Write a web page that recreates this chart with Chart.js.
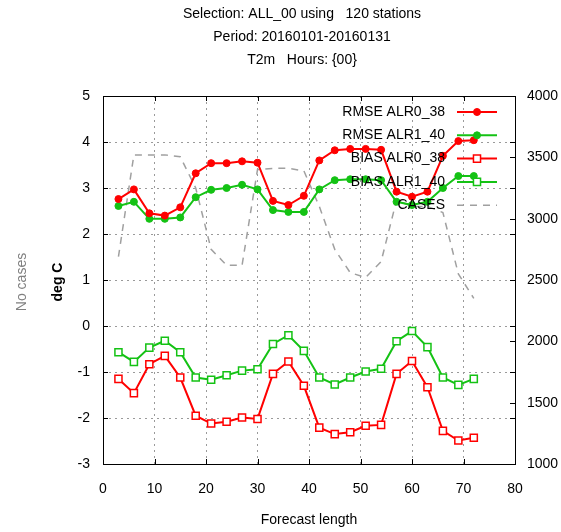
<!DOCTYPE html>
<html>
<head>
<meta charset="utf-8">
<script src="https://cdn.jsdelivr.net/npm/chart.js@4/dist/chart.umd.min.js"></script>
<style>
  body { margin: 0; background: #fff; }
  canvas { display: block; }
</style>
</head>
<body>
<canvas id="chart" width="561" height="532"></canvas>
<script>
const TITLE_LINES = ['Selection: ALL_00 using   120 stations', 'Period: 20160101-20160131', 'T2m   Hours: {00}'];

const HOURS = [3, 6, 9, 12, 15, 18, 21, 24, 27, 30, 33, 36, 39, 42, 45, 48, 51, 54, 57, 60, 63, 66, 69, 72];

const RMSE_ALR0 = [2.76, 2.97, 2.45, 2.40, 2.58, 3.32, 3.54, 3.54, 3.58, 3.55, 2.72, 2.63,
                   2.83, 3.60, 3.82, 3.85, 3.85, 3.83, 2.92, 2.81, 2.92, 3.70, 4.02, 4.04];
const RMSE_ALR1 = [2.61, 2.70, 2.33, 2.33, 2.36, 2.80, 2.96, 3.00, 3.07, 2.97, 2.52, 2.48,
                   2.48, 2.97, 3.17, 3.19, 3.19, 3.17, 2.70, 2.63, 2.70, 3.00, 3.26, 3.26];
const BIAS_ALR0 = [-1.15, -1.46, -0.83, -0.65, -1.12, -1.95, -2.12, -2.08, -1.99, -2.02, -1.04, -0.77,
                   -1.30, -2.21, -2.35, -2.31, -2.17, -2.15, -1.04, -0.76, -1.33, -2.28, -2.49, -2.43];
const BIAS_ALR1 = [-0.57, -0.78, -0.47, -0.32, -0.57, -1.12, -1.17, -1.07, -0.97, -0.94, -0.39, -0.20,
                   -0.54, -1.12, -1.27, -1.12, -0.99, -0.93, -0.33, -0.11, -0.46, -1.12, -1.28, -1.15];
const CASES     = [2690, 3520, 3520, 3520, 3505, 3250, 2750, 2620, 2620, 3400, 3410, 3410,
                   3390, 3100, 2750, 2560, 2520, 2650, 3150, 3100, 3100, 3050, 2550, 2350];

const X_TICKS  = [0, 10, 20, 30, 40, 50, 60, 70, 80];
const Y_TICKS  = [-3, -2, -1, 0, 1, 2, 3, 4, 5];
const Y2_TICKS = [1000, 1500, 2000, 2500, 3000, 3500, 4000];

const RED   = '#ff0000';
const GREEN = '#14c214';
const GREY  = '#a0a0a0';
const FONT  = '"Liberation Sans", Arial, sans-serif';

const pts = vals => HOURS.map((h, i) => ({ x: h, y: vals[i] }));

function series(label, vals, color, style) {
  const square = style === 'square';
  return {
    label,
    data: pts(vals),
    borderColor: color,
    backgroundColor: square ? '#ffffff' : color,
    borderWidth: 2,
    pointStyle: square ? 'rect' : 'circle',
    pointRadius: square ? 5 : 3.5,
    pointBorderWidth: square ? 1.5 : 1,
    pointBorderColor: color,
    pointBackgroundColor: square ? '#ffffff' : color,
    yAxisID: 'y',
    tension: 0,
  };
}

const datasets = [
  series('RMSE ALR0_38', RMSE_ALR0, RED, 'circle'),
  series('RMSE ALR1_40', RMSE_ALR1, GREEN, 'circle'),
  series('BIAS ALR0_38', BIAS_ALR0, RED, 'square'),
  series('BIAS ALR1_40', BIAS_ALR1, GREEN, 'square'),
  {
    label: 'CASES',
    data: pts(CASES),
    borderColor: GREY,
    borderWidth: 1.5,
    borderDash: [7, 6],
    pointRadius: 0,
    yAxisID: 'y2',
    tension: 0,
  },
];

// gnuplot-like frame, inward ticks, titles and key
const gnuplotFrame = {
  id: 'gnuplotFrame',
  beforeDraw(chart) {
    const ctx = chart.ctx;
    ctx.save();
    ctx.fillStyle = '#fff';
    ctx.fillRect(0, 0, chart.width, chart.height);
    ctx.restore();
  },
  afterDraw(chart) {
    const { ctx, chartArea: a, scales } = chart;
    ctx.save();

    ctx.strokeStyle = '#000';
    ctx.lineWidth = 1;
    ctx.strokeRect(a.left + 0.5, a.top + 0.5, a.right - a.left, a.bottom - a.top);

    const T = 5;
    ctx.beginPath();
    X_TICKS.forEach(v => {
      const px = Math.round(scales.x.getPixelForValue(v)) + 0.5;
      ctx.moveTo(px, a.bottom); ctx.lineTo(px, a.bottom - T);
      ctx.moveTo(px, a.top);    ctx.lineTo(px, a.top + T);
    });
    Y_TICKS.forEach(v => {
      const py = Math.round(scales.y.getPixelForValue(v)) + 0.5;
      ctx.moveTo(a.left, py);  ctx.lineTo(a.left + T, py);
      ctx.moveTo(a.right, py); ctx.lineTo(a.right - T, py);
    });
    Y2_TICKS.forEach(v => {
      const py = Math.round(scales.y2.getPixelForValue(v)) + 0.5;
      ctx.moveTo(a.right, py); ctx.lineTo(a.right - T, py);
    });
    ctx.stroke();

    // titles
    ctx.fillStyle = '#000';
    ctx.font = '14px ' + FONT;
    ctx.textAlign = 'center';
    ctx.textBaseline = 'middle';
    TITLE_LINES.forEach((t, i) => ctx.fillText(t, 302, 14 + i * 23));

    ctx.fillText('Forecast length', (a.left + a.right) / 2, 520);

    ctx.save();
    ctx.translate(58, 282);
    ctx.rotate(-Math.PI / 2);
    ctx.font = 'bold 14px ' + FONT;
    ctx.fillText('deg C', 0, 0);
    ctx.restore();

    ctx.save();
    ctx.translate(22, 282);
    ctx.rotate(-Math.PI / 2);
    ctx.fillStyle = '#808080';
    ctx.fillText('No cases', 0, 0);
    ctx.restore();

    // key
    const keyText = 445, s0 = 457, s1 = 497, row0 = 112, rowH = 23.3;
    const cx = (s0 + s1) / 2;
    chart.data.datasets.forEach((ds, i) => {
      const y = row0 + i * rowH;
      ctx.fillStyle = '#000';
      ctx.textAlign = 'right';
      ctx.fillText(ds.label, keyText, y);
      ctx.strokeStyle = ds.borderColor;
      ctx.lineWidth = ds.borderWidth;
      ctx.setLineDash(ds.borderDash || []);
      ctx.beginPath();
      ctx.moveTo(s0, y); ctx.lineTo(s1, y);
      ctx.stroke();
      ctx.setLineDash([]);
      if (ds.pointRadius > 0) {
        ctx.fillStyle = ds.pointBackgroundColor;
        ctx.strokeStyle = ds.pointBorderColor;
        ctx.lineWidth = ds.pointBorderWidth;
        ctx.beginPath();
        if (ds.pointStyle === 'rect') {
          const h = ds.pointRadius * Math.SQRT1_2;
          ctx.rect(cx - h, y - h, 2 * h, 2 * h);
        } else {
          ctx.arc(cx, y, ds.pointRadius, 0, Math.PI * 2);
        }
        ctx.fill();
        ctx.stroke();
      }
    });

    ctx.restore();
  },
};

const gridDots = (edges) => ({
  color: c => (edges.includes(c.tick && c.tick.value) ? 'rgba(0,0,0,0)' : '#9a9a9a'),
  lineWidth: 1,
  drawTicks: false,
});

const plain = v => String(v);

new Chart(document.getElementById('chart'), {
  type: 'line',
  data: { datasets },
  options: {
    responsive: false,
    animation: false,
    devicePixelRatio: 1,
    layout: { padding: { top: 96, left: 0, right: 0, bottom: 0 } },
    plugins: {
      legend: { display: false },
      title: { display: false },
      tooltip: { enabled: false },
    },
    scales: {
      x: {
        type: 'linear',
        min: 0, max: 80,
        afterFit: s => { s.height = 68; },
        afterBuildTicks: s => { s.ticks = X_TICKS.map(v => ({ value: v })); },
        grid: gridDots([0, 80]),
        border: { display: false, dash: [2, 4] },
        ticks: { color: '#000', font: { size: 14, family: FONT }, padding: 17, maxRotation: 0, callback: plain },
      },
      y: {
        position: 'left',
        min: -3, max: 5,
        afterFit: s => { s.width = 103; },
        afterBuildTicks: s => { s.ticks = Y_TICKS.map(v => ({ value: v })); },
        grid: gridDots([-3, 5]),
        border: { display: false, dash: [2, 4] },
        ticks: { color: '#000', font: { size: 14, family: FONT }, padding: 13, callback: plain },
      },
      y2: {
        position: 'right',
        min: 1000, max: 4000,
        afterFit: s => { s.width = 46; },
        afterBuildTicks: s => { s.ticks = Y2_TICKS.map(v => ({ value: v })); },
        grid: { display: false, drawTicks: false },
        border: { display: false },
        ticks: { color: '#000', font: { size: 14, family: FONT }, padding: 12, callback: plain },
      },
    },
  },
  plugins: [gnuplotFrame],
});
</script>
</body>
</html>
